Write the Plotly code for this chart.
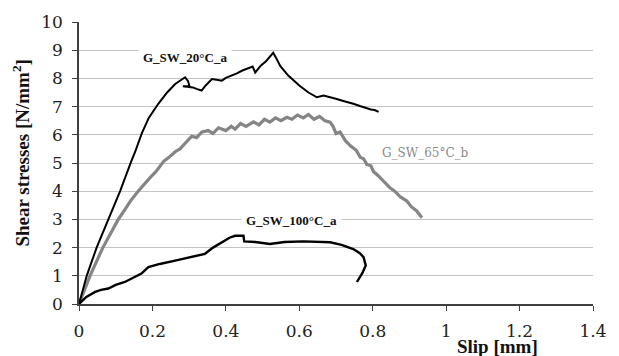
import plotly.graph_objects as go

# 20°C_a
x20 = [0, 0.021, 0.048, 0.08, 0.112, 0.142, 0.153, 0.171, 0.19, 0.216, 0.24, 0.262, 0.278, 0.289, 0.297, 0.301,
       0.283, 0.31, 0.322, 0.334, 0.345, 0.362, 0.375, 0.389, 0.40, 0.416, 0.43, 0.445, 0.466, 0.473, 0.480,
       0.495, 0.51, 0.529, 0.538, 0.548, 0.57, 0.60, 0.625, 0.648, 0.666, 0.68, 0.702, 0.72, 0.735, 0.747,
       0.765, 0.78, 0.795, 0.805, 0.816]
y20 = [0, 1.0, 2.0, 3.0, 4.0, 5.05, 5.4, 6.05, 6.6, 7.1, 7.5, 7.8, 7.95, 8.04, 7.9, 7.72,
       7.72, 7.68, 7.62, 7.57, 7.75, 7.98, 7.95, 7.92, 8.02, 8.1, 8.18, 8.28, 8.39, 8.42, 8.21,
       8.45, 8.62, 8.91, 8.7, 8.44, 8.1, 7.75, 7.5, 7.33, 7.39, 7.35, 7.27, 7.2, 7.15, 7.1,
       7.02, 6.95, 6.9, 6.88, 6.81]

# 65°C_b
x65 = [0, 0.03, 0.065, 0.085, 0.107, 0.125, 0.14, 0.161, 0.18, 0.195, 0.21, 0.23, 0.245,
       0.262, 0.275, 0.29, 0.307, 0.32, 0.335, 0.352, 0.365, 0.38, 0.40, 0.415, 0.425, 0.44, 0.455, 0.475,
       0.49, 0.505, 0.52, 0.535, 0.55, 0.566, 0.58, 0.595, 0.611, 0.625, 0.64, 0.655, 0.67, 0.684, 0.692,
       0.70, 0.711, 0.725, 0.74, 0.755, 0.766, 0.775, 0.784, 0.795, 0.802, 0.815, 0.83, 0.847, 0.86, 0.875,
       0.893, 0.905, 0.92, 0.934]
y65 = [0, 1.0, 2.0, 2.5, 3.0, 3.35, 3.65, 4.0, 4.3, 4.5, 4.7, 5.05, 5.2,
       5.4, 5.5, 5.7, 5.95, 5.9, 6.1, 6.15, 6.05, 6.25, 6.15, 6.3, 6.2, 6.4, 6.3, 6.46,
       6.35, 6.55, 6.45, 6.6, 6.5, 6.62, 6.55, 6.7, 6.6, 6.72, 6.55, 6.65, 6.5, 6.45, 6.3,
       6.05, 6.1, 5.8, 5.6, 5.45, 5.2, 5.15, 4.95, 4.9, 4.7, 4.55, 4.35, 4.12, 4.0, 3.8,
       3.65, 3.45, 3.3, 3.06]

# 100°C_a
x100 = [0, 0.02, 0.044, 0.06, 0.08, 0.10, 0.125, 0.15, 0.17, 0.189, 0.22, 0.262, 0.30, 0.343, 0.365,
        0.389, 0.41, 0.425, 0.448, 0.45, 0.48, 0.52, 0.56, 0.611, 0.65, 0.684, 0.715, 0.747, 0.765, 0.775,
        0.781, 0.772, 0.757]
y100 = [0, 0.25, 0.43, 0.5, 0.55, 0.68, 0.78, 0.95, 1.08, 1.31, 1.42, 1.54, 1.65, 1.78, 2.0,
        2.19, 2.35, 2.42, 2.42, 2.22, 2.2, 2.13, 2.2, 2.22, 2.2, 2.19, 2.1, 1.95, 1.8, 1.66,
        1.37, 1.1, 0.78]

xticks = [0, 0.2, 0.4, 0.6, 0.8, 1, 1.2, 1.4]
yticks = list(range(0, 11))

serif = "Liberation Serif"
serif2 = "DejaVu Serif"

fig = go.Figure()
fig.add_trace(go.Scatter(x=x65, y=y65, mode="lines", line=dict(color="#858585", width=3.2)))
fig.add_trace(go.Scatter(x=x20, y=y20, mode="lines", line=dict(color="#000000", width=2)))
fig.add_trace(go.Scatter(x=x100, y=y100, mode="lines", line=dict(color="#000000", width=2.4)))

W, H = 619, 356
l, r, t, b = 79, 26, 19, 52
pw, ph = W - l - r, H - t - b

def px2paper(px, py):
    return (px - l) / pw, 1 - (py - t) / ph

sx, sy = px2paper(497, 347)
yx, yy = px2paper(21, 152)

fig.update_layout(
    width=W, height=H,
    margin=dict(l=l, r=r, t=t, b=b),
    paper_bgcolor="white", plot_bgcolor="white",
    showlegend=False,
    font=dict(family=serif2, color="#222222", size=17),
    xaxis=dict(range=[0, 1.4], tickvals=xticks, ticktext=[str(v) for v in xticks],
               showgrid=False, zeroline=False, showline=True, linecolor="#404040", linewidth=1.5,
               ticks="outside", ticklen=5, tickcolor="#404040", ticklabelstandoff=6,
               tickfont=dict(family=serif2, size=17, color="#222222")),
    yaxis=dict(range=[0, 10], tickvals=yticks, showgrid=True, gridcolor="#c4c4c4", gridwidth=1.2,
               zeroline=False, showline=True, linecolor="#404040", linewidth=1.5,
               ticks="outside", ticklen=5, tickcolor="#404040", ticklabelstandoff=6,
               tickfont=dict(family=serif2, size=17, color="#222222")),
    annotations=[
        dict(x=0.289, y=8.74, xref="x", yref="y", text="<b>G_SW_20°C_a</b>", showarrow=False,
             font=dict(family=serif, size=13, color="#111111"), bgcolor="white", borderpad=4),
        dict(x=0.943, y=5.35, xref="x", yref="y", text="G_SW_65°C_b", showarrow=False,
             font=dict(family=serif2, size=12, color="#8a8a8a")),
        dict(x=0.579, y=2.95, xref="x", yref="y", text="<b>G_SW_100°C_a</b>", showarrow=False,
             font=dict(family=serif, size=13, color="#111111"), bgcolor="white", borderpad=4),
        dict(x=sx, y=sy, xref="paper", yref="paper", xanchor="center", yanchor="middle",
             text="<b>Slip [mm]</b>", showarrow=False,
             font=dict(family=serif, size=19, color="#111111")),
        dict(x=yx, y=yy, xref="paper", yref="paper", xanchor="center", yanchor="middle",
             text="<b>Shear stresses [N/mm<sup>2</sup>]</b>",
             showarrow=False, textangle=-90, font=dict(family=serif, size=19, color="#111111")),
    ],
)

fig.write_html("out.html")
